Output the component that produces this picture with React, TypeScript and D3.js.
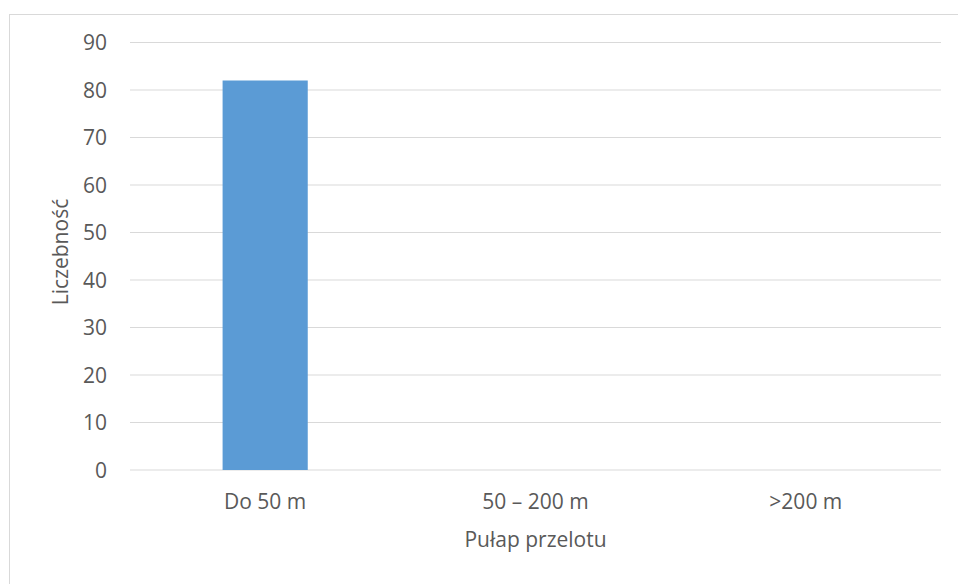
import React from "react";
import * as d3 from "d3";

const categories: string[] = ["Do 50 m", "50 – 200 m", ">200 m"];
const values: number[] = [82, 0, 0];
const yTicks: number[] = [0, 10, 20, 30, 40, 50, 60, 70, 80, 90];
const yTitle = "Liczebność";
const xTitle = "Pułap przelotu";

const W = 958;
const H = 584;
const left = 130;
const right = 941;
const top = 42.5;
const bottom = 470;
const FONT = "'Open Sans', 'Noto Sans', sans-serif";
const TEXT = "#595959";

export default function App() {
  const x = d3
    .scaleBand<string>()
    .domain(categories)
    .range([left, right])
    .paddingInner(0.685)
    .paddingOuter(0.3425);
  const y = d3.scaleLinear().domain([0, 90]).range([bottom, top]);

  return (
    <svg
      width={W}
      height={H}
      style={{ position: "absolute", left: 0, top: 0, background: "#fff" }}
      fontFamily={FONT}
    >
      <rect x={9.5} y={14.5} width={W} height={H} fill="#fff" stroke="#d9d9d9" strokeWidth={1} />
      {yTicks.map((t) => (
        <g key={t}>
          <line x1={left} x2={right} y1={y(t)} y2={y(t)} stroke="#d9d9d9" strokeWidth={1.2} />
          <text x={107} y={y(t) + 7.5} textAnchor="end" fontSize={21} fill={TEXT}>
            {t}
          </text>
        </g>
      ))}
      {categories.map((c, i) => (
        <rect
          key={c}
          x={x(c)!}
          y={y(values[i])}
          width={x.bandwidth()}
          height={y(0) - y(values[i])}
          fill="#5b9bd5"
        />
      ))}
      {categories.map((c) => (
        <text
          key={c}
          x={x(c)! + x.bandwidth() / 2}
          y={509}
          textAnchor="middle"
          fontSize={21}
          fill={TEXT}
        >
          {c}
        </text>
      ))}
      <text x={(left + right) / 2} y={547} textAnchor="middle" fontSize={21} fill={TEXT}>
        {xTitle}
      </text>
      <text
        transform={`translate(68, 252) rotate(-90)`}
        textAnchor="middle"
        fontSize={21}
        fill={TEXT}
      >
        {yTitle}
      </text>
    </svg>
  );
}
